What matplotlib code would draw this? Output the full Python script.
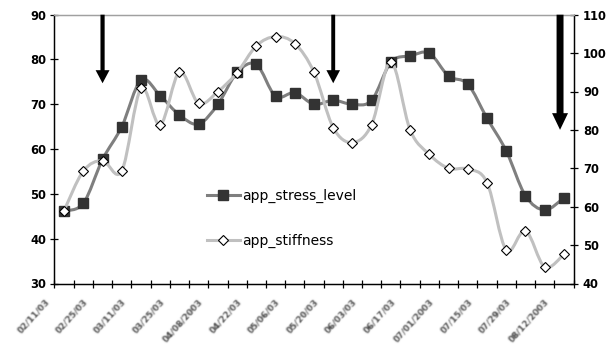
import numpy as np
import matplotlib
matplotlib.use("Agg")
import matplotlib.pyplot as plt
from matplotlib.path import Path
from matplotlib.patches import PathPatch, FancyArrowPatch
from matplotlib.lines import Line2D
import matplotlib.transforms as mtransforms

# ---- data -------------------------------------------------------------
stress_level = [46.2, 47.9, 57.7, 65.0, 75.4, 71.9, 67.6, 65.6, 70.0, 77.1,
                78.9, 71.8, 72.6, 70.0, 70.9, 70.0, 70.9, 79.4, 80.8, 81.4,
                76.3, 74.5, 66.9, 59.6, 49.6, 46.4, 49.1]
stiffness = [59.0, 69.3, 72.0, 69.3, 90.8, 81.3, 95.1, 86.9, 90.0, 94.9,
             101.9, 104.3, 102.5, 95.0, 80.6, 76.7, 81.4, 97.7, 80.0, 73.6,
             70.0, 69.8, 66.3, 48.7, 53.8, 44.3, 47.6]
date_labels = ["02/11/03", "02/25/03", "03/11/03", "03/25/03", "04/08/2003",
               "04/22/03", "05/06/03", "05/20/03", "06/03/03", "06/17/03",
               "07/01/2003", "07/15/03", "07/29/03", "08/12/2003"]
label_every = 2
# arrow markers: (category position, tip value on the left axis)
arrow_pos = [2.0, 14.0, 25.8]
arrow_tip = [74.7, 74.7, 64.3]

left_ticks = [30, 40, 50, 60, 70, 80, 90]
right_ticks = [40, 50, 60, 70, 80, 90, 100, 110]

n = len(stress_level)
x = np.arange(n)

W, H = 613, 347
fig = plt.figure(figsize=(W / 100, H / 100), dpi=100)
ax = fig.add_axes([54.5 / W, 1 - 283.5 / H, 519 / W, 268.8 / H])
ax2 = ax.twinx()

tick_font = dict(family="DejaVu Sans", weight="bold", size=8.3)


def smooth_path(xs, ys):
    """Cubic Bezier path through the points (Catmull-Rom style smoothing)."""
    pts = np.column_stack([xs, ys]).astype(float)
    ext = np.vstack([pts[0], pts, pts[-1]])
    verts = [pts[0]]
    codes = [Path.MOVETO]
    for i in range(len(pts) - 1):
        p0, p1, p2, p3 = ext[i], ext[i + 1], ext[i + 2], ext[i + 3]
        c1 = p1 + (p2 - p0) / 6.0
        c2 = p2 - (p3 - p1) / 6.0
        verts += [c1, c2, p2]
        codes += [Path.CURVE4] * 3
    return Path(np.array(verts), codes)


stress_line = "#7f7f7f"
stress_face = "#333333"
stiff_line = "#c0c0c0"

ax.add_patch(PathPatch(smooth_path(x, stress_level), fill=False,
                       edgecolor=stress_line, linewidth=2.2, zorder=2))
ax.plot(x, stress_level, linestyle="none", marker="s", markersize=6.6,
        markerfacecolor=stress_face, markeredgecolor=stress_face, zorder=3)

ax2.add_patch(PathPatch(smooth_path(x, stiffness), fill=False,
                        edgecolor=stiff_line, linewidth=2.2, zorder=2))
ax2.plot(x, stiffness, linestyle="none", marker="D", markersize=5.6,
         markerfacecolor="white", markeredgecolor="black",
         markeredgewidth=0.8, zorder=3)

# axes ranges and ticks
ax.set_xlim(-0.5, n - 0.5)
ax.set_ylim(30, 90)
ax2.set_ylim(40, 110)
ax.set_yticks(left_ticks)
ax2.set_yticks(right_ticks)
ax.set_xticks(np.arange(-0.5, n, 1.0))
ax.set_xticklabels([])

for a in (ax, ax2):
    a.patch.set_visible(False)
    for s in a.spines.values():
        s.set_linewidth(0.9)
        s.set_color("black")
    a.spines["top"].set_color("#a0a0a0")
    a.tick_params(axis="both", direction="inout", length=5.5, width=0.9,
                  color="black")
ax.tick_params(axis="y", pad=3.5)
ax2.tick_params(axis="y", pad=4)
for lab in ax.get_yticklabels() + ax2.get_yticklabels():
    lab.set_fontproperties(matplotlib.font_manager.FontProperties(**tick_font))
ax.patch.set_visible(True)
ax.patch.set_facecolor("white")
ax.set_zorder(0)
ax2.set_zorder(1)


def blur_filter(img, dpi):
    """Soft gaussian blur used for the small date labels."""
    sigma = 0.75
    r = 3
    k = np.exp(-0.5 * (np.arange(-r, r + 1) / sigma) ** 2)
    k /= k.sum()
    pad = r
    out = np.pad(img, ((pad, pad), (pad, pad), (0, 0)), mode="constant")
    for axis in (0, 1):
        out = np.apply_along_axis(lambda m: np.convolve(m, k, mode="same"),
                                  axis, out)
    return out, -pad, -pad


# rotated date labels under every other category
lab_tr = mtransforms.blended_transform_factory(ax.transData, ax.transAxes) + \
    mtransforms.ScaledTranslation(-13 / 100, -14 / 100, fig.dpi_scale_trans)
for i, lab in enumerate(date_labels):
    t = ax.text(i * label_every, 0, lab, transform=lab_tr, rotation=48,
                ha="right", va="top", fontsize=6.3, color="#333333",
                family="DejaVu Sans", weight="bold", clip_on=False)
    t.set_agg_filter(blur_filter)

# downward arrows
for xp, tip, tw, hw, hl in zip(arrow_pos, arrow_tip,
                               [3.0, 2.8, 5.0], [10.0, 9.8, 11.5],
                               [9.4, 9.4, 12.0]):
    arr = FancyArrowPatch((xp, 90), (xp, tip), transform=ax.transData,
                          arrowstyle=f"simple,head_length={hl},head_width={hw},tail_width={tw}",
                          mutation_scale=1, shrinkA=0, shrinkB=0,
                          facecolor="black", edgecolor="black", linewidth=0,
                          clip_on=False, zorder=5)
    ax2.add_patch(arr)

# legend
handles = [
    Line2D([], [], color=stress_line, linewidth=2.2, marker="s",
           markersize=6.6, markerfacecolor=stress_face,
           markeredgecolor=stress_face),
    Line2D([], [], color=stiff_line, linewidth=2.2, marker="D",
           markersize=5.6, markerfacecolor="white", markeredgecolor="black",
           markeredgewidth=0.8),
]
leg = ax2.legend(handles, ["app_stress_level", "app_stiffness"],
                 loc="upper left", bbox_to_anchor=(207 / W, 1 - 189 / H),
                 bbox_transform=fig.transFigure, frameon=False,
                 borderpad=0, borderaxespad=0, handlelength=2.35,
                 handletextpad=0.15, labelspacing=2.2,
                 prop=dict(family="DejaVu Sans", size=10))

fig.savefig("out.png", dpi=100)
